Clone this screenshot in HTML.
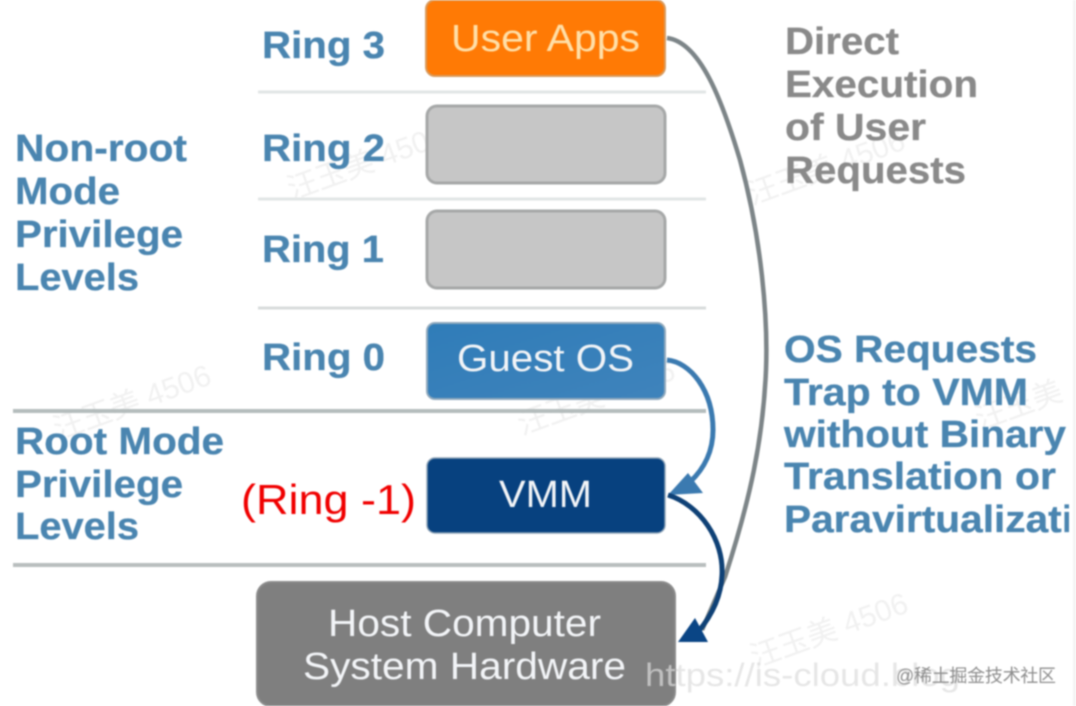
<!DOCTYPE html>
<html><head><meta charset="utf-8">
<style>
html,body{margin:0;padding:0;background:#fff}
svg{display:block;filter:blur(.8px)}
.b{font-family:"Liberation Sans",sans-serif;font-weight:700;font-size:38px;fill:#4a85b0;stroke:#4a85b0;stroke-width:.3px}
.g{fill:#8a8a8a;stroke:#8a8a8a}
.w{font-family:"Liberation Sans",sans-serif;font-size:38px;fill:#f2f4f7}
.wm{font-family:"Liberation Sans","Noto Sans CJK SC",sans-serif;font-size:30px;fill:#f1f1f1}
</style></head><body>
<svg width="1076" height="706" viewBox="0 0 1076 706" xmlns="http://www.w3.org/2000/svg">
<defs>
<linearGradient id="bl" x1="0" y1="0" x2="1" y2="1"><stop offset="0" stop-color="#2f7cb8"/><stop offset="1" stop-color="#3f83bb"/></linearGradient>
<clipPath id="rc"><rect x="780" y="500" width="289" height="50"/></clipPath>
</defs>
<rect width="1076" height="706" fill="#fff"/>
<!-- watermarks -->
<g class="wm">
<text transform="translate(292,200) rotate(-20)">汪玉美 4506</text>
<text transform="translate(752,205) rotate(-20)">汪玉美 4506</text>
<text transform="translate(58,440) rotate(-20)">汪玉美 4506</text>
<text transform="translate(522,435) rotate(-20)">汪玉美 4506</text>
<text transform="translate(980,430) rotate(-20)">汪玉美</text>
<text transform="translate(755,668) rotate(-20)">汪玉美 4506</text>
</g>
<!-- separators -->
<g>
<line x1="258" y1="92" x2="706" y2="92" stroke="#e2e6e6" stroke-width="3"/>
<line x1="258" y1="199" x2="706" y2="199" stroke="#e2e6e6" stroke-width="3"/>
<line x1="258" y1="308" x2="706" y2="308" stroke="#d8dcdc" stroke-width="3"/>
<line x1="13" y1="411" x2="706" y2="411" stroke="#b4bcbc" stroke-width="4"/>
<line x1="13" y1="565" x2="706" y2="565" stroke="#b8bebe" stroke-width="4"/>
</g>
<!-- boxes -->
<rect x="426" y="0" width="239" height="76" rx="9" fill="#ff7a05" stroke="#d99a5c" stroke-width="2"/>
<rect x="427" y="106" width="238" height="77" rx="10" fill="#c6c6c6" stroke="#a6a8a8" stroke-width="3"/>
<rect x="427" y="211" width="238" height="77" rx="10" fill="#c6c6c6" stroke="#a6a8a8" stroke-width="3"/>
<rect x="427" y="323" width="238" height="76" rx="8" fill="url(#bl)" stroke="#8fa9bd" stroke-width="2"/>
<rect x="427" y="458" width="238" height="75" rx="8" fill="#07417f" stroke="#8ea4b8" stroke-width="1.5"/>
<rect x="257" y="582" width="418" height="124" rx="14" fill="#7f7f7f" stroke="#8c8c8c" stroke-width="2"/>
<!-- box text -->
<text class="w" x="451" y="51" style="fill:#ffdfa8" textLength="189" lengthAdjust="spacingAndGlyphs">User Apps</text>
<text class="w" x="457" y="371" textLength="177" lengthAdjust="spacingAndGlyphs">Guest OS</text>
<text class="w" x="499" y="507" textLength="93" lengthAdjust="spacingAndGlyphs">VMM</text>
<text class="w" x="328" y="636" textLength="273" lengthAdjust="spacingAndGlyphs">Host Computer</text>
<text class="w" x="303" y="679" textLength="323" lengthAdjust="spacingAndGlyphs">System Hardware</text>
<!-- connectors -->
<path d="M667 38 C700 42 722 100 740 160 C762 240 768 320 766 370 C763 440 750 500 725 577 L702 630" fill="none" stroke="#7d8588" stroke-width="4.5"/>
<path d="M667 360 C690 362 713 390 713 430 C713 450 705 468 690 482" fill="none" stroke="#3b7ab0" stroke-width="5"/>
<polygon points="668,495 688,473 703,493" fill="#3b7ab0"/>
<path d="M668 495 C700 505 724 540 722 575 C721 600 708 620 698 632" fill="none" stroke="#0f4176" stroke-width="5"/>
<polygon points="678,642 695,618 708,642" fill="#0a4585"/>
<!-- labels -->
<g class="b">
<text x="262" y="58" textLength="123" lengthAdjust="spacingAndGlyphs">Ring 3</text>
<text x="262" y="161" textLength="123" lengthAdjust="spacingAndGlyphs">Ring 2</text>
<text x="262" y="262" textLength="122" lengthAdjust="spacingAndGlyphs">Ring 1</text>
<text x="262" y="370" textLength="123" lengthAdjust="spacingAndGlyphs">Ring 0</text>
<text x="15" y="161" textLength="172" lengthAdjust="spacingAndGlyphs">Non-root</text>
<text x="15" y="204" textLength="105" lengthAdjust="spacingAndGlyphs">Mode</text>
<text x="15" y="247" textLength="168" lengthAdjust="spacingAndGlyphs">Privilege</text>
<text x="15" y="290" textLength="124" lengthAdjust="spacingAndGlyphs">Levels</text>
<text x="15" y="454" textLength="209" lengthAdjust="spacingAndGlyphs">Root Mode</text>
<text x="15" y="497" textLength="168" lengthAdjust="spacingAndGlyphs">Privilege</text>
<text x="15" y="539" textLength="124" lengthAdjust="spacingAndGlyphs">Levels</text>
</g>
<g class="b g">
<text x="785" y="54" textLength="114" lengthAdjust="spacingAndGlyphs">Direct</text>
<text x="785" y="97" textLength="193" lengthAdjust="spacingAndGlyphs">Execution</text>
<text x="785" y="140" textLength="141" lengthAdjust="spacingAndGlyphs">of User</text>
<text x="785" y="183" textLength="181" lengthAdjust="spacingAndGlyphs">Requests</text>
</g>
<g class="b">
<text x="784" y="362" textLength="253" lengthAdjust="spacingAndGlyphs">OS Requests</text>
<text x="784" y="405" textLength="244" lengthAdjust="spacingAndGlyphs">Trap to VMM</text>
<text x="784" y="447" textLength="282" lengthAdjust="spacingAndGlyphs">without Binary</text>
<text x="784" y="489" textLength="272" lengthAdjust="spacingAndGlyphs">Translation or</text>
<text x="784" y="532" textLength="289" lengthAdjust="spacingAndGlyphs" clip-path="url(#rc)">Paravirtualizati</text>
</g>
<text x="241" y="514" font-family="'Liberation Sans',sans-serif" font-size="42" fill="#f00000" textLength="175" lengthAdjust="spacingAndGlyphs">(Ring -1)</text>
<!-- footer marks -->
<text x="645" y="686" font-family="'Liberation Sans',sans-serif" font-size="32" fill="#dcdcdc" fill-opacity=".7" textLength="315" lengthAdjust="spacingAndGlyphs">https://is-cloud.blog</text>
<text x="896" y="682" font-family="'Liberation Sans','Noto Sans CJK SC',sans-serif" font-size="18" fill="#8e8e8e" textLength="160">@稀土掘金技术社区</text>
<rect x="1073" y="0" width="3" height="706" fill="#f4f4f4"/>
</svg>
</body></html>
